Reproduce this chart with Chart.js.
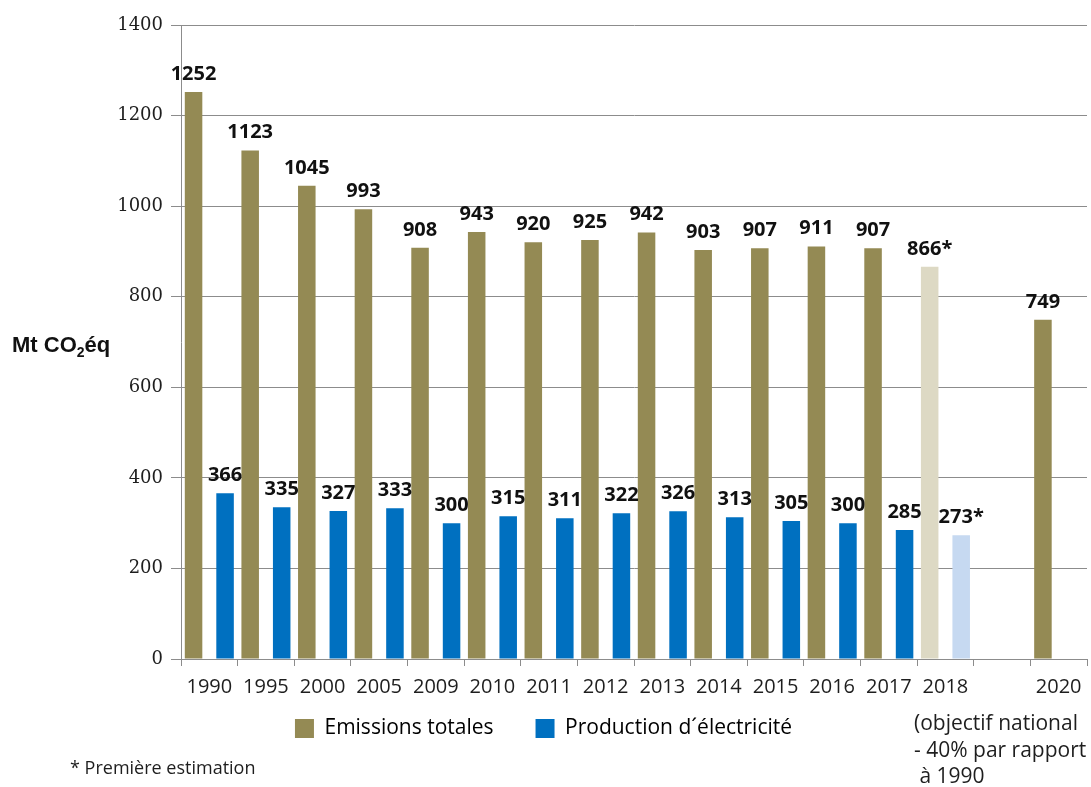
<!DOCTYPE html>
<html>
<head>
<meta charset="utf-8">
<script src="https://cdn.jsdelivr.net/npm/chart.js@4.4.1/dist/chart.umd.min.js"></script>
<style>
html,body{margin:0;padding:0;background:#fff}
#wrap{position:relative;width:1091px;height:787px;overflow:hidden}
#c{position:absolute;left:0;top:0}
.txt{position:absolute;white-space:nowrap;color:#1e1e1e;font-family:'Open Sans',sans-serif}
#ytitle{left:12px;top:332px;font:bold 22px 'Liberation Sans',Arial,sans-serif;color:#111}
#ytitle sub{font-size:14px;vertical-align:-5px;line-height:0}
#foot{left:70px;top:755px;font-size:18px}
#goal{left:914px;top:709px;font-size:21px;line-height:26.5px}
</style>
</head>
<body>
<div id="wrap">
<canvas id="c" width="1091" height="787" style="width:1091px;height:787px"></canvas>
<div class="txt" id="ytitle">Mt CO<sub>2</sub>éq</div>
<div class="txt" id="foot">* Première estimation</div>
<div class="txt" id="goal">(objectif national<br>- 40% par rapport<br>&nbsp;à 1990</div>
</div>
<script>
// ── Data ──
const years=['1990','1995','2000','2005','2009','2010','2011','2012','2013','2014','2015','2016','2017','2018','','2020'];
const emissions=[1252,1123,1045,993,908,943,920,925,942,903,907,911,907,866,null,749];
const electricity=[366,335,327,333,300,315,311,322,326,313,305,300,285,273,null,null];
const estimated=[false,false,false,false,false,false,false,false,false,false,false,false,false,true,false,false];
const yTicks=[0,200,400,600,800,1000,1200,1400];

// ── Colours ──
const OLIVE='#948a54',OLIVE_LIGHT='#ddd9c4';
const BLUE='#0070c0',BLUE_LIGHT='#c6d9f1';
const GRID='#8c8c8c';
const SANS='"Open Sans", sans-serif';

const pick=(base,light)=>ctx=>(ctx.dataIndex!==undefined&&estimated[ctx.dataIndex])?light:base;

// value labels above bars, "*" on estimated years
const valueLabels={
  id:'valueLabels',
  afterDatasetsDraw(chart){
    const ctx=chart.ctx;
    ctx.save();
    ctx.font='bold 20px '+SANS;
    ctx.fillStyle='#111';
    ctx.textAlign='center';
    ctx.textBaseline='alphabetic';
    chart.data.datasets.forEach((ds,i)=>{
      const meta=chart.getDatasetMeta(i);
      meta.data.forEach((bar,j)=>{
        const v=ds.data[j];
        if(v==null)return;
        ctx.fillText(v+(estimated[j]?'*':''),bar.x,bar.y-12);
      });
    });
    ctx.restore();
  }
};

// pull the legend up closer to the tick labels (wide item gap, tight top)
const legendLift={
  id:'legendLift',
  afterLayout(chart){
    if(!chart.legend)return;
    chart.legend.top-=32;chart.legend.bottom-=32;
  }
};

new Chart(document.getElementById('c'),{
  type:'bar',
  data:{
    labels:years,
    datasets:[
      {label:'Emissions totales',data:emissions,backgroundColor:pick(OLIVE,OLIVE_LIGHT)},
      {label:'Production d´électricité',data:electricity,backgroundColor:pick(BLUE,BLUE_LIGHT)}
    ]
  },
  options:{
    responsive:false,animation:false,
    categoryPercentage:1.113,barPercentage:0.556,
    layout:{padding:{top:25,right:4,left:0,bottom:6}},
    plugins:{
      tooltip:{enabled:false},
      legend:{
        position:'bottom',
        labels:{
          font:{family:SANS,size:21},
          color:'#1e1e1e',boxWidth:19,boxHeight:19,padding:42,
          generateLabels:()=>[
            {text:'Emissions totales',fillStyle:OLIVE,strokeStyle:OLIVE,lineWidth:0,datasetIndex:0},
            {text:'Production d´électricité',fillStyle:BLUE,strokeStyle:BLUE,lineWidth:0,datasetIndex:1}
          ]
        }
      }
    },
    scales:{
      x:{
        grid:{offset:true,drawOnChartArea:false,drawTicks:true,tickLength:7,color:GRID},
        border:{color:GRID},
        ticks:{font:{family:SANS,size:20},color:'#1e1e1e',padding:9,maxRotation:0,autoSkip:false}
      },
      y:{
        min:0,max:1400,
        grid:{color:GRID,tickLength:10},
        border:{color:GRID},
        afterBuildTicks:s=>{s.ticks=yTicks.map(v=>({value:v}))},
        ticks:{font:{family:'"DejaVu Serif", serif',size:18},color:'#1e1e1e',padding:8,callback:v=>String(v)},
        afterFit:s=>{s.width=181}
      }
    }
  },
  plugins:[valueLabels,legendLift]
});
</script>
</body>
</html>
